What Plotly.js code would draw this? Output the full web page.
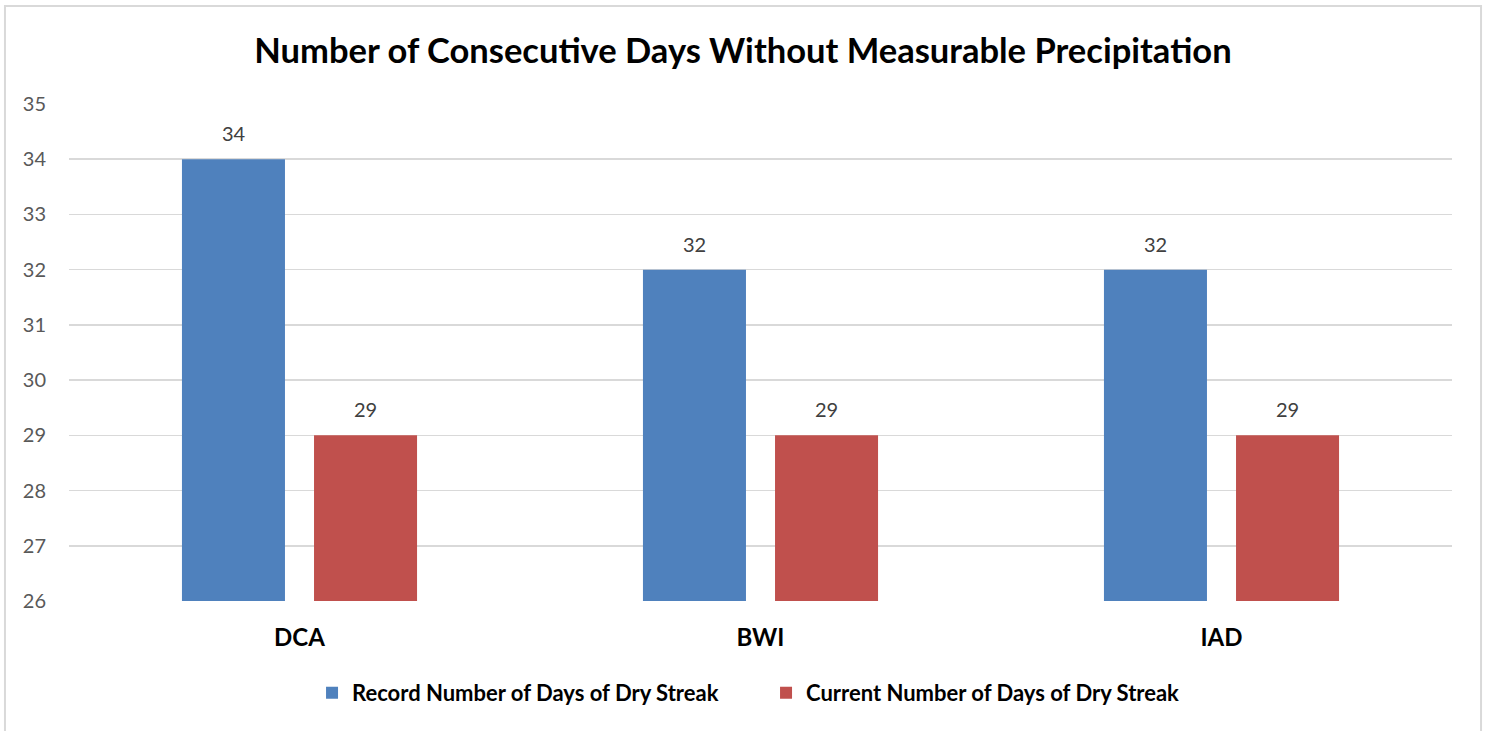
<!DOCTYPE html>
<html>
<head>
<meta charset="utf-8">
<script src="https://cdn.plot.ly/plotly-3.0.1.min.js"></script>
<style>
html,body{margin:0;padding:0;background:#fff;}
#chart{width:1486px;height:731px;}
</style>
</head>
<body>
<div id="chart"></div>
<script>
const categories = ["DCA", "BWI", "IAD"];
const recordDays = [34, 32, 32];
const currentDays = [29, 29, 29];
const seriesNames = ["Record Number of Days of Dry Streak", "Current Number of Days of Dry Streak"];
const yTicks = [26, 27, 28, 29, 30, 31, 32, 33, 34, 35];

const FONT = "Lato, 'Open Sans', sans-serif";
const colors = ["#4f81bd", "#c0504d"];
const series = [recordDays, currentDays];

const traces = series.map((vals, i) => ({
  type: "bar",
  name: seriesNames[i],
  x: categories,
  y: vals.map(v => v - 26),
  base: 26,
  marker: {color: colors[i], line: {width: 0}},
  hoverinfo: "skip"
}));

const annotations = [];
series.forEach((vals, i) => {
  vals.forEach((v, j) => {
    annotations.push({
      x: categories[j], y: v, xref: "x", yref: "y",
      text: String(v), showarrow: false,
      xshift: i === 0 ? -66 : 66, yshift: 12, yanchor: "bottom",
      font: {family: FONT, size: 20, color: "#404040"}
    });
  });
});

const layout = {
  width: 1486, height: 731,
  margin: {l: 69, r: 34, t: 104, b: 130, autoexpand: false},
  paper_bgcolor: "#ffffff", plot_bgcolor: "#ffffff",
  title: {text: "<b>Number of Consecutive Days Without Measurable Precipitation</b>",
          font: {family: FONT, size: 34.5, color: "#000000"},
          x: 0.5, xanchor: "center", y: 0.93, yanchor: "middle", xref: "container"},
  barmode: "group", bargap: 0.427, bargroupgap: 0.22,
  xaxis: {
    type: "category", showgrid: false, zeroline: false, showline: false, ticks: "",
    tickfont: {family: FONT, size: 24, color: "#000000", weight: "bold"},
    ticklabelstandoff: 20
  },
  yaxis: {
    range: [26, 35], tickvals: yTicks, ticktext: yTicks.map(String),
    showgrid: true, gridcolor: "#d9d9d9", gridwidth: 1.5, zeroline: false, showline: false, ticks: "",
    tickfont: {family: FONT, size: 20, color: "#595959"},
    ticklabelstandoff: 22
  },
  showlegend: true,
  legend: {orientation: "h", x: 0.504, xanchor: "center", y: -0.185, yanchor: "middle",
           font: {family: FONT, size: 22, color: "#000000", weight: "bold"},
           itemwidth: 30, traceorder: "normal", entrywidth: 409},
  annotations: annotations,
  shapes: [{type: "rect", xref: "paper", yref: "paper",
            x0: -0.0463, x1: 1.021, y0: -0.3, y1: 1.197,
            line: {color: "#d9d9d9", width: 2}, fillcolor: "rgba(0,0,0,0)", layer: "below"}]
};

Plotly.newPlot("chart", traces, layout, {displayModeBar: false, staticPlot: true});
</script>
</body>
</html>
